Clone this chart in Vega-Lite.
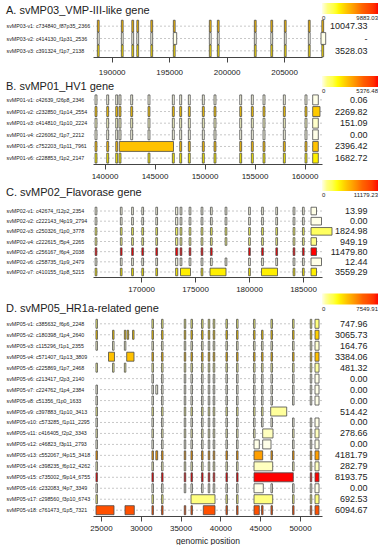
{
"$schema": "https://vega.github.io/schema/vega-lite/v6.json",
"padding": {"left": 6, "top": 3, "right": 0, "bottom": 0},
"spacing": 0,
"config": {
  "font": "Liberation Sans",
  "view": {"stroke": null},
  "axis": {"labelFontSize": 8, "tickSize": 5, "labelPadding": 3, "domainColor": "#444444", "tickColor": "#444444", "labelColor": "#222222", "grid": false, "labelFlush": false},
  "title": {"anchor": "start", "frame": "bounds", "fontSize": 11, "fontWeight": "normal", "baseline": "alphabetic", "color": "#222222"}
},
"datasets": {
  "trA": [
    {"t": "v1", "k": "svMP03-v1: c734840_f87p35_2366|10047.33", "e": 4500},
    {"t": "v2", "k": "svMP03-v2: c414130_f1p31_2536|-", "e": 0},
    {"t": "v3", "k": "svMP03-v3: c391324_f1p7_2138|3528.03", "e": 3528.03}
  ],
  "exA": [
    {"t":"v1","a":188751,"b":188908},{"t":"v1","a":190839,"b":190996},{"t":"v1","a":191753,"b":191910},{"t":"v1","a":192188,"b":192345},{"t":"v1","a":193406,"b":193563},{"t":"v1","a":195363,"b":195520},{"t":"v1","a":198495,"b":198652},{"t":"v1","a":199191,"b":199348},{"t":"v1","a":202410,"b":202567},{"t":"v1","a":203846,"b":204003},{"t":"v1","a":205020,"b":205177},{"t":"v1","a":207108,"b":207265},{"t":"v1","a":208283,"b":208440},
    {"t":"v2","a":188751,"b":188908},{"t":"v2","a":190839,"b":190996},{"t":"v2","a":191753,"b":191910},{"t":"v2","a":192188,"b":192345},{"t":"v2","a":193406,"b":193563},{"t":"v2","a":195359,"b":195655},{"t":"v2","a":198495,"b":198652},{"t":"v2","a":199191,"b":199348},{"t":"v2","a":202410,"b":202567},{"t":"v2","a":203846,"b":204003},{"t":"v2","a":205020,"b":205177},{"t":"v2","a":207108,"b":207265},{"t":"v2","a":208209,"b":208618},
    {"t":"v3","a":188751,"b":188908},{"t":"v3","a":190839,"b":190996},{"t":"v3","a":191753,"b":191910},{"t":"v3","a":192188,"b":192345},{"t":"v3","a":193406,"b":193563},{"t":"v3","a":195363,"b":195520},{"t":"v3","a":198495,"b":198652},{"t":"v3","a":199191,"b":199348},{"t":"v3","a":202410,"b":202567},{"t":"v3","a":203846,"b":204003},{"t":"v3","a":205020,"b":205177},{"t":"v3","a":207108,"b":207265},{"t":"v3","a":208283,"b":208440}
  ],
  "trB": [
    {"t": "v1", "k": "svMP01-v1: c42639_f26p8_2346|0.06", "e": 0.06},
    {"t": "v2", "k": "svMP01-v2: c232850_f1p14_2554|2269.82", "e": 2269.82},
    {"t": "v3", "k": "svMP01-v3: c414810_f1p10_2224|151.09", "e": 151.09},
    {"t": "v4", "k": "svMP01-v4: c226062_f1p7_2212|0.00", "e": 0},
    {"t": "v5", "k": "svMP01-v5: c752203_f1p11_7961|2396.42", "e": 2396.42},
    {"t": "v6", "k": "svMP01-v6: c228853_f1p2_2147|1682.72", "e": 1682.72}
  ],
  "exB": [
    {"t":"v1","a":139055,"b":139245},{"t":"v1","a":140225,"b":140415},{"t":"v1","a":141125,"b":141315},{"t":"v1","a":141455,"b":141645},{"t":"v1","a":142625,"b":142815},{"t":"v1","a":144355,"b":144545},{"t":"v1","a":146785,"b":146975},{"t":"v1","a":147525,"b":147715},{"t":"v1","a":148385,"b":148575},{"t":"v1","a":149785,"b":149975},{"t":"v1","a":150955,"b":151145},{"t":"v1","a":153525,"b":153715},{"t":"v1","a":154685,"b":154875},{"t":"v1","a":155855,"b":156045},{"t":"v1","a":157885,"b":158075},{"t":"v1","a":160055,"b":160245},{"t":"v1","a":160820,"b":161380},
    {"t":"v2","a":139055,"b":139245},{"t":"v2","a":140225,"b":140415},{"t":"v2","a":141125,"b":141315},{"t":"v2","a":141455,"b":141645},{"t":"v2","a":142625,"b":142815},{"t":"v2","a":144355,"b":144545},{"t":"v2","a":146785,"b":146975},{"t":"v2","a":147525,"b":147715},{"t":"v2","a":148385,"b":148575},{"t":"v2","a":149785,"b":149975},{"t":"v2","a":150955,"b":151145},{"t":"v2","a":153525,"b":153715},{"t":"v2","a":154685,"b":154875},{"t":"v2","a":155855,"b":156045},{"t":"v2","a":157885,"b":158075},{"t":"v2","a":160055,"b":160245},{"t":"v2","a":160820,"b":161550},
    {"t":"v3","a":139055,"b":139245},{"t":"v3","a":140225,"b":140415},{"t":"v3","a":141125,"b":141315},{"t":"v3","a":141455,"b":141645},{"t":"v3","a":142625,"b":142815},{"t":"v3","a":144355,"b":144545},{"t":"v3","a":146785,"b":146975},{"t":"v3","a":147525,"b":147715},{"t":"v3","a":148385,"b":148575},{"t":"v3","a":149785,"b":149975},{"t":"v3","a":150955,"b":151145},{"t":"v3","a":153525,"b":153715},{"t":"v3","a":154685,"b":154875},{"t":"v3","a":155855,"b":156045},{"t":"v3","a":157885,"b":158075},{"t":"v3","a":160055,"b":160245},{"t":"v3","a":160820,"b":161380},
    {"t":"v4","a":139055,"b":139245},{"t":"v4","a":140225,"b":140415},{"t":"v4","a":141125,"b":141315},{"t":"v4","a":141455,"b":141645},{"t":"v4","a":142625,"b":142815},{"t":"v4","a":144355,"b":144545},{"t":"v4","a":146785,"b":146975},{"t":"v4","a":147525,"b":147715},{"t":"v4","a":148385,"b":148575},{"t":"v4","a":149785,"b":149975},{"t":"v4","a":150955,"b":151145},{"t":"v4","a":153525,"b":153715},{"t":"v4","a":154685,"b":154875},{"t":"v4","a":155855,"b":156045},{"t":"v4","a":157885,"b":158075},{"t":"v4","a":160055,"b":160245},{"t":"v4","a":160820,"b":161380},
    {"t":"v5","a":139055,"b":139245},{"t":"v5","a":140225,"b":140415},{"t":"v5","a":141125,"b":141315},{"t":"v5","a":141480,"b":146900},{"t":"v5","a":147525,"b":147715},{"t":"v5","a":148385,"b":148575},{"t":"v5","a":149785,"b":149975},{"t":"v5","a":150955,"b":151145},{"t":"v5","a":153525,"b":153715},{"t":"v5","a":154685,"b":154875},{"t":"v5","a":155855,"b":156045},{"t":"v5","a":157885,"b":158075},{"t":"v5","a":160055,"b":160245},{"t":"v5","a":160820,"b":161380},
    {"t":"v6","a":139055,"b":139245},{"t":"v6","a":140225,"b":140415},{"t":"v6","a":141125,"b":141315},{"t":"v6","a":141455,"b":141645},{"t":"v6","a":144355,"b":144545},{"t":"v6","a":146785,"b":146975},{"t":"v6","a":147525,"b":147715},{"t":"v6","a":148385,"b":148575},{"t":"v6","a":149785,"b":149975},{"t":"v6","a":150955,"b":151145},{"t":"v6","a":153525,"b":153715},{"t":"v6","a":154685,"b":154875},{"t":"v6","a":155855,"b":156045},{"t":"v6","a":157885,"b":158075},{"t":"v6","a":160055,"b":160245},{"t":"v6","a":160820,"b":161380}
  ],
  "trC": [
    {"t": "v1", "k": "svMP02-v1: c42674_f12p2_2354|13.99", "e": 13.99},
    {"t": "v2", "k": "svMP02-v2: c222143_f4p19_2794|0.00", "e": 0},
    {"t": "v3", "k": "svMP02-v3: c250326_f1p0_3778|1824.98", "e": 1824.98},
    {"t": "v4", "k": "svMP02-v4: c222615_f5p4_2265|949.19", "e": 949.19},
    {"t": "v5", "k": "svMP02-v5: c256167_f6p4_2038|11479.80", "e": 11479.8},
    {"t": "v6", "k": "svMP02-v6: c258735_f1p9_2479|12.44", "e": 12.44},
    {"t": "v7", "k": "svMP02-v7: c410155_f1p8_5215|3559.29", "e": 3559.29}
  ],
  "exC": [
    {"t":"v1","a":165754,"b":165912},{"t":"v1","a":168087,"b":168245},{"t":"v1","a":169134,"b":169292},{"t":"v1","a":170078,"b":170236},{"t":"v1","a":171375,"b":171533},{"t":"v1","a":173208,"b":173403},{"t":"v1","a":173625,"b":173783},{"t":"v1","a":174458,"b":174616},{"t":"v1","a":175569,"b":175728},{"t":"v1","a":176430,"b":176589},{"t":"v1","a":177792,"b":177950},{"t":"v1","a":179968,"b":180126},{"t":"v1","a":181172,"b":181330},{"t":"v1","a":182487,"b":182645},{"t":"v1","a":184088,"b":184247},{"t":"v1","a":184950,"b":185108},{"t":"v1","a":185742,"b":186251},
    {"t":"v2","a":165754,"b":165912},{"t":"v2","a":168087,"b":168245},{"t":"v2","a":169134,"b":169292},{"t":"v2","a":170078,"b":170236},{"t":"v2","a":171375,"b":171533},{"t":"v2","a":173208,"b":173403},{"t":"v2","a":173625,"b":173783},{"t":"v2","a":174458,"b":174616},{"t":"v2","a":175569,"b":175728},{"t":"v2","a":176430,"b":176589},{"t":"v2","a":177792,"b":177950},{"t":"v2","a":179968,"b":180126},{"t":"v2","a":181172,"b":181330},{"t":"v2","a":182487,"b":182645},{"t":"v2","a":184088,"b":184247},{"t":"v2","a":184950,"b":185108},{"t":"v2","a":185742,"b":186714},
    {"t":"v3","a":165754,"b":165912},{"t":"v3","a":168087,"b":168245},{"t":"v3","a":169134,"b":169292},{"t":"v3","a":170078,"b":170236},{"t":"v3","a":171375,"b":171533},{"t":"v3","a":173208,"b":173403},{"t":"v3","a":173625,"b":173783},{"t":"v3","a":174458,"b":174616},{"t":"v3","a":175569,"b":175728},{"t":"v3","a":176430,"b":176589},{"t":"v3","a":177792,"b":177950},{"t":"v3","a":179968,"b":180126},{"t":"v3","a":181172,"b":181330},{"t":"v3","a":182487,"b":182645},{"t":"v3","a":184088,"b":184247},{"t":"v3","a":184950,"b":185108},{"t":"v3","a":185742,"b":187686},
    {"t":"v4","a":165754,"b":165912},{"t":"v4","a":168087,"b":168245},{"t":"v4","a":169134,"b":169292},{"t":"v4","a":170078,"b":170236},{"t":"v4","a":171375,"b":171533},{"t":"v4","a":173208,"b":173403},{"t":"v4","a":173625,"b":173783},{"t":"v4","a":174458,"b":174616},{"t":"v4","a":175569,"b":175728},{"t":"v4","a":176430,"b":176589},{"t":"v4","a":177792,"b":177950},{"t":"v4","a":179968,"b":180126},{"t":"v4","a":181172,"b":181330},{"t":"v4","a":182487,"b":182645},{"t":"v4","a":184088,"b":184247},{"t":"v4","a":184950,"b":185108},{"t":"v4","a":185742,"b":186251},
    {"t":"v5","a":165754,"b":165912},{"t":"v5","a":168087,"b":168245},{"t":"v5","a":169134,"b":169292},{"t":"v5","a":170078,"b":170236},{"t":"v5","a":171375,"b":171533},{"t":"v5","a":173208,"b":173403},{"t":"v5","a":173625,"b":173783},{"t":"v5","a":174458,"b":174616},{"t":"v5","a":175569,"b":175728},{"t":"v5","a":176430,"b":176589},{"t":"v5","a":179968,"b":180126},{"t":"v5","a":181172,"b":181330},{"t":"v5","a":182487,"b":182645},{"t":"v5","a":184088,"b":184247},{"t":"v5","a":184950,"b":185108},{"t":"v5","a":185742,"b":186251},
    {"t":"v6","a":165754,"b":165912},{"t":"v6","a":168087,"b":168245},{"t":"v6","a":169134,"b":169292},{"t":"v6","a":170078,"b":170236},{"t":"v6","a":171375,"b":171533},{"t":"v6","a":173208,"b":173403},{"t":"v6","a":173625,"b":173783},{"t":"v6","a":174458,"b":174616},{"t":"v6","a":175569,"b":175728},{"t":"v6","a":176430,"b":176589},{"t":"v6","a":177792,"b":177950},{"t":"v6","a":179968,"b":180126},{"t":"v6","a":181172,"b":181330},{"t":"v6","a":182487,"b":182645},{"t":"v6","a":184088,"b":184247},{"t":"v6","a":184950,"b":185108},{"t":"v6","a":185742,"b":186714},
    {"t":"v7","a":165754,"b":165912},{"t":"v7","a":168087,"b":168245},{"t":"v7","a":169134,"b":169292},{"t":"v7","a":170078,"b":170236},{"t":"v7","a":171375,"b":171533},{"t":"v7","a":173208,"b":173403},{"t":"v7","a":173658,"b":174584},{"t":"v7","a":175569,"b":175728},{"t":"v7","a":176389,"b":177871},{"t":"v7","a":179968,"b":180126},{"t":"v7","a":181158,"b":182640},{"t":"v7","a":184088,"b":184247},{"t":"v7","a":184950,"b":185108},{"t":"v7","a":185742,"b":186251}
  ],
  "trD": [
    {"t": "v1", "k": "svMP05-v1: c385632_f6p6_2248|747.96", "e": 747.96},
    {"t": "v2", "k": "svMP05-v2: c180398_f1p4_2640|3065.73", "e": 3065.73},
    {"t": "v3", "k": "svMP05-v3: c115296_f1p1_2355|164.76", "e": 164.76},
    {"t": "v4", "k": "svMP05-v4: c571407_f1p13_3809|3384.06", "e": 3384.06},
    {"t": "v5", "k": "svMP05-v5: c225869_f1p7_2468|481.32", "e": 481.32},
    {"t": "v6", "k": "svMP05-v6: c213417_f2p3_2140|0.00", "e": 0},
    {"t": "v7", "k": "svMP05-v7: c224762_f1p4_2384|0.00", "e": 0},
    {"t": "v8", "k": "svMP05-v8: c51356_f1p0_1633|0.00", "e": 0},
    {"t": "v9", "k": "svMP05-v9: c397883_f1p10_3413|514.42", "e": 514.42},
    {"t": "v10", "k": "svMP05-v10: c573285_f1p11_2295|0.00", "e": 0},
    {"t": "v11", "k": "svMP05-v11: c416405_f2p2_3343|278.66", "e": 278.66},
    {"t": "v12", "k": "svMP05-v12: c46823_f3p11_2793|0.00", "e": 0},
    {"t": "v13", "k": "svMP05-v13: c552067_f4p15_3418|4181.79", "e": 4181.79},
    {"t": "v14", "k": "svMP05-v14: c398235_f6p12_4262|282.79", "e": 282.79},
    {"t": "v15", "k": "svMP05-v15: c735002_f9p14_6755|8193.75", "e": 8193.75},
    {"t": "v16", "k": "svMP05-v16: c232083_f4p7_3349|0.00", "e": 0},
    {"t": "v17", "k": "svMP05-v17: c298560_f3p10_6743|692.53", "e": 692.53},
    {"t": "v18", "k": "svMP05-v18: c761473_f1p5_7321|6094.67", "e": 6094.67}
  ],
  "exD": [
    {"t":"v1","a":24371,"b":24559},{"t":"v1","a":31404,"b":31592},{"t":"v1","a":32610,"b":32798},{"t":"v1","a":35461,"b":35649},{"t":"v1","a":36303,"b":36491},{"t":"v1","a":37634,"b":37822},{"t":"v1","a":38475,"b":38664},{"t":"v1","a":39103,"b":39292},{"t":"v1","a":40699,"b":40887},{"t":"v1","a":42030,"b":42218},{"t":"v1","a":44165,"b":44353},{"t":"v1","a":46351,"b":46539},{"t":"v1","a":49064,"b":49252},{"t":"v1","a":51287,"b":51475},{"t":"v1","a":51883,"b":52386},
    {"t":"v2","a":24371,"b":24559},{"t":"v2","a":26456,"b":26644},{"t":"v2","a":27938,"b":28126},{"t":"v2","a":28289,"b":28478},{"t":"v2","a":28968,"b":29156},{"t":"v2","a":31404,"b":31592},{"t":"v2","a":32610,"b":32798},{"t":"v2","a":35461,"b":35649},{"t":"v2","a":36303,"b":36491},{"t":"v2","a":37634,"b":37822},{"t":"v2","a":38475,"b":38664},{"t":"v2","a":39103,"b":39292},{"t":"v2","a":40699,"b":40887},{"t":"v2","a":42030,"b":42218},{"t":"v2","a":44165,"b":44353},{"t":"v2","a":45170,"b":45358},{"t":"v2","a":46351,"b":46539},{"t":"v2","a":49064,"b":49252},{"t":"v2","a":51287,"b":51475},{"t":"v2","a":51883,"b":52386},
    {"t":"v3","a":24371,"b":24559},{"t":"v3","a":26456,"b":26644},{"t":"v3","a":27938,"b":28126},{"t":"v3","a":31404,"b":31592},{"t":"v3","a":32610,"b":32798},{"t":"v3","a":35461,"b":35649},{"t":"v3","a":36303,"b":36491},{"t":"v3","a":37634,"b":37822},{"t":"v3","a":38475,"b":38664},{"t":"v3","a":39103,"b":39292},{"t":"v3","a":40699,"b":40887},{"t":"v3","a":42030,"b":42218},{"t":"v3","a":44165,"b":44353},{"t":"v3","a":45170,"b":45358},{"t":"v3","a":46351,"b":46539},{"t":"v3","a":49064,"b":49252},{"t":"v3","a":51287,"b":51475},{"t":"v3","a":51883,"b":52386},
    {"t":"v4","a":25947,"b":26700},{"t":"v4","a":28233,"b":29150},{"t":"v4","a":31404,"b":31592},{"t":"v4","a":32610,"b":32798},{"t":"v4","a":35461,"b":35649},{"t":"v4","a":36303,"b":36491},{"t":"v4","a":37634,"b":37822},{"t":"v4","a":38475,"b":38664},{"t":"v4","a":39103,"b":39292},{"t":"v4","a":40699,"b":40887},{"t":"v4","a":42030,"b":42218},{"t":"v4","a":44165,"b":44353},{"t":"v4","a":45170,"b":45358},{"t":"v4","a":46351,"b":46539},{"t":"v4","a":49064,"b":49252},{"t":"v4","a":51287,"b":51475},{"t":"v4","a":51883,"b":52386},
    {"t":"v5","a":24371,"b":24559},{"t":"v5","a":26456,"b":26644},{"t":"v5","a":27938,"b":28126},{"t":"v5","a":31404,"b":31592},{"t":"v5","a":32610,"b":32798},{"t":"v5","a":35461,"b":35649},{"t":"v5","a":36303,"b":36491},{"t":"v5","a":37634,"b":37822},{"t":"v5","a":38475,"b":38664},{"t":"v5","a":39103,"b":39292},{"t":"v5","a":40699,"b":40887},{"t":"v5","a":42030,"b":42218},{"t":"v5","a":44165,"b":44353},{"t":"v5","a":45170,"b":45358},{"t":"v5","a":46351,"b":46539},{"t":"v5","a":49064,"b":49252},{"t":"v5","a":51287,"b":51475},{"t":"v5","a":51883,"b":52386},
    {"t":"v6","a":31404,"b":31592},{"t":"v6","a":32610,"b":32798},{"t":"v6","a":35461,"b":35649},{"t":"v6","a":36303,"b":36491},{"t":"v6","a":37634,"b":37822},{"t":"v6","a":38475,"b":38664},{"t":"v6","a":39103,"b":39292},{"t":"v6","a":40699,"b":40887},{"t":"v6","a":42030,"b":42218},{"t":"v6","a":44165,"b":44353},{"t":"v6","a":45170,"b":45358},{"t":"v6","a":46351,"b":46539},{"t":"v6","a":49064,"b":49252},{"t":"v6","a":51287,"b":51475},{"t":"v6","a":51883,"b":52386},
    {"t":"v7","a":24371,"b":24559},{"t":"v7","a":31404,"b":31592},{"t":"v7","a":31894,"b":32120},{"t":"v7","a":32610,"b":32798},{"t":"v7","a":35461,"b":35649},{"t":"v7","a":36303,"b":36491},{"t":"v7","a":37634,"b":37822},{"t":"v7","a":38475,"b":38664},{"t":"v7","a":39103,"b":39292},{"t":"v7","a":40699,"b":40887},{"t":"v7","a":42030,"b":42218},{"t":"v7","a":44165,"b":44353},{"t":"v7","a":45170,"b":45358},{"t":"v7","a":46351,"b":46539},{"t":"v7","a":49064,"b":49252},{"t":"v7","a":51287,"b":51475},{"t":"v7","a":51883,"b":52386},
    {"t":"v8","a":24371,"b":24559},{"t":"v8","a":31404,"b":31592},{"t":"v8","a":32610,"b":32798},{"t":"v8","a":35461,"b":35649},{"t":"v8","a":36303,"b":36491},{"t":"v8","a":37634,"b":37822},{"t":"v8","a":38475,"b":38664},{"t":"v8","a":39103,"b":39292},{"t":"v8","a":40699,"b":40887},{"t":"v8","a":42030,"b":42218},{"t":"v8","a":44165,"b":44353},{"t":"v8","a":45170,"b":45358},{"t":"v8","a":46351,"b":46539},{"t":"v8","a":49064,"b":49252},{"t":"v8","a":51287,"b":51475},{"t":"v8","a":51883,"b":52386},
    {"t":"v9","a":24371,"b":24559},{"t":"v9","a":31404,"b":31592},{"t":"v9","a":32610,"b":32798},{"t":"v9","a":35461,"b":35649},{"t":"v9","a":36303,"b":36491},{"t":"v9","a":37634,"b":37822},{"t":"v9","a":38475,"b":38664},{"t":"v9","a":39103,"b":39292},{"t":"v9","a":40699,"b":40887},{"t":"v9","a":42030,"b":42218},{"t":"v9","a":44165,"b":44353},{"t":"v9","a":45170,"b":45358},{"t":"v9","a":46319,"b":48329},
    {"t":"v10","a":24371,"b":24559},{"t":"v10","a":31404,"b":31592},{"t":"v10","a":32610,"b":32798},{"t":"v10","a":35461,"b":35649},{"t":"v10","a":36303,"b":36491},{"t":"v10","a":37634,"b":37822},{"t":"v10","a":38475,"b":38664},{"t":"v10","a":39103,"b":39292},{"t":"v10","a":40699,"b":40887},{"t":"v10","a":42030,"b":42218},{"t":"v10","a":44165,"b":44353},{"t":"v10","a":45170,"b":45358},{"t":"v10","a":46351,"b":46539},{"t":"v10","a":49064,"b":49252},{"t":"v10","a":51287,"b":51475},{"t":"v10","a":51883,"b":52386},
    {"t":"v11","a":24371,"b":24559},{"t":"v11","a":31404,"b":31592},{"t":"v11","a":32610,"b":32798},{"t":"v11","a":35461,"b":35649},{"t":"v11","a":36303,"b":36491},{"t":"v11","a":37634,"b":37822},{"t":"v11","a":38475,"b":38664},{"t":"v11","a":39103,"b":39292},{"t":"v11","a":40699,"b":40887},{"t":"v11","a":42030,"b":42218},{"t":"v11","a":44165,"b":44353},{"t":"v11","a":45314,"b":46608},{"t":"v11","a":49064,"b":49252},{"t":"v11","a":51287,"b":51475},{"t":"v11","a":51883,"b":52386},
    {"t":"v12","a":24371,"b":24559},{"t":"v12","a":31404,"b":31592},{"t":"v12","a":32610,"b":32798},{"t":"v12","a":35461,"b":35649},{"t":"v12","a":36303,"b":36491},{"t":"v12","a":37634,"b":37822},{"t":"v12","a":38475,"b":38664},{"t":"v12","a":39103,"b":39292},{"t":"v12","a":40699,"b":40887},{"t":"v12","a":42030,"b":42218},{"t":"v12","a":44222,"b":44887},{"t":"v12","a":45314,"b":46357},{"t":"v12","a":49064,"b":49252},{"t":"v12","a":51287,"b":51475},{"t":"v12","a":51883,"b":52386},
    {"t":"v13","a":24371,"b":24559},{"t":"v13","a":31404,"b":31592},{"t":"v13","a":31894,"b":32120},{"t":"v13","a":32610,"b":32798},{"t":"v13","a":35461,"b":35649},{"t":"v13","a":36303,"b":36491},{"t":"v13","a":37634,"b":37822},{"t":"v13","a":38475,"b":38664},{"t":"v13","a":39103,"b":39292},{"t":"v13","a":40699,"b":40887},{"t":"v13","a":42030,"b":42218},{"t":"v13","a":44222,"b":45314},{"t":"v13","a":46351,"b":46539},{"t":"v13","a":49064,"b":49252},{"t":"v13","a":51287,"b":51475},{"t":"v13","a":51883,"b":52386},
    {"t":"v14","a":24371,"b":24559},{"t":"v14","a":31404,"b":31592},{"t":"v14","a":32610,"b":32798},{"t":"v14","a":35461,"b":35649},{"t":"v14","a":36303,"b":36491},{"t":"v14","a":37634,"b":37822},{"t":"v14","a":38475,"b":38664},{"t":"v14","a":39103,"b":39292},{"t":"v14","a":40699,"b":40887},{"t":"v14","a":42030,"b":42218},{"t":"v14","a":44222,"b":46570},{"t":"v14","a":49064,"b":49252},{"t":"v14","a":51287,"b":51475},{"t":"v14","a":51883,"b":52386},
    {"t":"v15","a":24371,"b":24559},{"t":"v15","a":31404,"b":31592},{"t":"v15","a":32610,"b":32798},{"t":"v15","a":35461,"b":35649},{"t":"v15","a":36303,"b":36491},{"t":"v15","a":37634,"b":37822},{"t":"v15","a":38475,"b":38664},{"t":"v15","a":39103,"b":39292},{"t":"v15","a":40699,"b":40887},{"t":"v15","a":42030,"b":42218},{"t":"v15","a":44222,"b":49158},{"t":"v15","a":51287,"b":51475},{"t":"v15","a":51883,"b":52386},
    {"t":"v16","a":24371,"b":24559},{"t":"v16","a":31404,"b":31592},{"t":"v16","a":32610,"b":32798},{"t":"v16","a":35461,"b":35649},{"t":"v16","a":36303,"b":36491},{"t":"v16","a":37634,"b":37822},{"t":"v16","a":38475,"b":38664},{"t":"v16","a":39103,"b":39292},{"t":"v16","a":40699,"b":40887},{"t":"v16","a":42030,"b":42218},{"t":"v16","a":44222,"b":45390},{"t":"v16","a":46351,"b":46539},{"t":"v16","a":49064,"b":49252},{"t":"v16","a":51287,"b":51475},{"t":"v16","a":51883,"b":52386},
    {"t":"v17","a":24371,"b":24559},{"t":"v17","a":31404,"b":31592},{"t":"v17","a":32610,"b":32798},{"t":"v17","a":36309,"b":39323},{"t":"v17","a":40699,"b":40887},{"t":"v17","a":42030,"b":42218},{"t":"v17","a":44222,"b":46570},{"t":"v17","a":49064,"b":49252},{"t":"v17","a":51287,"b":51475},{"t":"v17","a":51883,"b":52386},
    {"t":"v18","a":24377,"b":26638},{"t":"v18","a":28019,"b":29187},{"t":"v18","a":31404,"b":31592},{"t":"v18","a":32610,"b":32798},{"t":"v18","a":35461,"b":35649},{"t":"v18","a":36303,"b":36491},{"t":"v18","a":37854,"b":39323},{"t":"v18","a":40699,"b":40887},{"t":"v18","a":42030,"b":42218},{"t":"v18","a":44222,"b":44887},{"t":"v18","a":45170,"b":45358},{"t":"v18","a":46351,"b":46539},{"t":"v18","a":49064,"b":49252},{"t":"v18","a":51287,"b":51475},{"t":"v18","a":51883,"b":52386}
  ]
},
"vconcat": [
  {
    "title": {"text": "A.  svMP03_VMP-III-like gene", "offset": -12.5},
    "width": 229, "height": 37,
    "layer": [
      {"data": {"name": "trA"},
       "mark": {"type": "rule", "strokeDash": [2, 2], "color": "#b0b0b0", "strokeWidth": 0.7},
       "encoding": {"y": {"field": "k", "type": "nominal", "sort": null, "bandPosition": 0.5,
         "scale": {"paddingInner": 0.04, "paddingOuter": 0.02},
         "axis": {"orient": "right", "labelExpr": "split(datum.value, '|')[1]", "labelAlign": "right", "labelPadding": 45, "labelFontSize": 9, "ticks": false, "tickSize": 0, "domain": false, "title": null}}}},
      {"data": {"name": "exA"},
       "transform": [{"lookup": "t", "from": {"data": {"name": "trA"}, "key": "t", "fields": ["k", "e"]}}],
       "mark": {"type": "rect", "stroke": "#4a4a4a", "strokeWidth": 0.8},
       "encoding": {
         "x": {"field": "a", "type": "quantitative", "scale": {"domain": [188373, 208296], "nice": false, "zero": false}, "axis": {"values": [190000, 195000, 200000, 205000], "format": "d", "title": null, "labelPadding": 6}},
         "x2": {"field": "b"},
         "y": {"field": "k", "type": "nominal", "sort": null, "axis": {"orient": "left", "labelExpr": "split(datum.value, '|')[0]", "labelAlign": "left", "labelPadding": 87, "labelFontSize": 5.3, "ticks": false, "tickSize": 0, "domain": false, "title": null}},
         "color": {"field": "e", "type": "quantitative",
           "scale": {"domain": [0, 898.46, 2695.37, 4492.29, 7187.66, 9883.03], "range": ["#FFFFE8", "#FFFF80", "#FFFF00", "#FFBF00", "#FF6000", "#FF0000"], "clamp": true},
           "legend": {"orient": "none", "legendX": 229, "legendY": -17, "direction": "horizontal", "title": null, "gradientLength": 56, "gradientThickness": 11, "labelFontSize": 6, "labelOffset": 1, "values": [0, 9883.03], "labelExpr": "datum.value == 0 ? '0' : format(datum.value, '.2f')", "padding": 0, "gradientStrokeWidth": 0, "labelColor": "#222222"}}
       }}
    ],
    "resolve": {"axis": {"y": "independent"}}
  },
  {
    "title": {"text": "B.  svMP01_HV1 gene", "offset": -15.5},
    "width": 229, "height": 70,
    "layer": [
      {"data": {"name": "trB"},
       "mark": {"type": "rule", "strokeDash": [2, 2], "color": "#b0b0b0", "strokeWidth": 0.7},
       "encoding": {"y": {"field": "k", "type": "nominal", "sort": null, "bandPosition": 0.5,
         "scale": {"paddingInner": 0.15, "paddingOuter": 0.08},
         "axis": {"orient": "right", "labelExpr": "split(datum.value, '|')[1]", "labelAlign": "right", "labelPadding": 45, "labelFontSize": 9, "ticks": false, "tickSize": 0, "domain": false, "title": null}}}},
      {"data": {"name": "exB"},
       "transform": [{"lookup": "t", "from": {"data": {"name": "trB"}, "key": "t", "fields": ["k", "e"]}}],
       "mark": {"type": "rect", "stroke": "#4a4a4a", "strokeWidth": 0.8},
       "encoding": {
         "x": {"field": "a", "type": "quantitative", "scale": {"domain": [138850, 161750], "nice": false, "zero": false}, "axis": {"values": [140000, 145000, 150000, 155000, 160000], "format": "d", "title": null}},
         "x2": {"field": "b"},
         "y": {"field": "k", "type": "nominal", "sort": null, "axis": {"orient": "left", "labelExpr": "split(datum.value, '|')[0]", "labelAlign": "left", "labelPadding": 87, "labelFontSize": 5.3, "ticks": false, "tickSize": 0, "domain": false, "title": null}},
         "color": {"field": "e", "type": "quantitative",
           "scale": {"domain": [0, 488.77, 1466.31, 2443.86, 3910.17, 5376.48], "range": ["#FFFFE8", "#FFFF80", "#FFFF00", "#FFBF00", "#FF6000", "#FF0000"], "clamp": true},
           "legend": {"orient": "none", "legendX": 229, "legendY": -18, "direction": "horizontal", "title": null, "gradientLength": 56, "gradientThickness": 11, "labelFontSize": 6, "labelOffset": 1, "values": [0, 5376.48], "labelExpr": "datum.value == 0 ? '0' : format(datum.value, '.2f')", "padding": 0, "gradientStrokeWidth": 0, "labelColor": "#222222"}}
       }}
    ],
    "resolve": {"axis": {"y": "independent"}}
  },
  {
    "title": {"text": "C.  svMP02_Flavorase gene", "offset": -18},
    "width": 229, "height": 71,
    "layer": [
      {"data": {"name": "trC"},
       "mark": {"type": "rule", "strokeDash": [2, 2], "color": "#b0b0b0", "strokeWidth": 0.7},
       "encoding": {"y": {"field": "k", "type": "nominal", "sort": null, "bandPosition": 0.5,
         "scale": {"paddingInner": 0.25, "paddingOuter": 0.12},
         "axis": {"orient": "right", "labelExpr": "split(datum.value, '|')[1]", "labelAlign": "right", "labelPadding": 45, "labelFontSize": 9, "ticks": false, "tickSize": 0, "domain": false, "title": null}}}},
      {"data": {"name": "exC"},
       "transform": [{"lookup": "t", "from": {"data": {"name": "trC"}, "key": "t", "fields": ["k", "e"]}}],
       "mark": {"type": "rect", "stroke": "#4a4a4a", "strokeWidth": 0.8},
       "encoding": {
         "x": {"field": "a", "type": "quantitative", "scale": {"domain": [165555, 186760], "nice": false, "zero": false}, "axis": {"values": [170000, 175000, 180000, 185000], "format": "d", "title": null}},
         "x2": {"field": "b"},
         "y": {"field": "k", "type": "nominal", "sort": null, "axis": {"orient": "left", "labelExpr": "split(datum.value, '|')[0]", "labelAlign": "left", "labelPadding": 87, "labelFontSize": 5.3, "ticks": false, "tickSize": 0, "domain": false, "title": null}},
         "color": {"field": "e", "type": "quantitative",
           "scale": {"domain": [0, 1016.29, 3048.88, 5081.47, 8130.35, 11179.23], "range": ["#FFFFE8", "#FFFF80", "#FFFF00", "#FFBF00", "#FF6000", "#FF0000"], "clamp": true},
           "legend": {"orient": "none", "legendX": 229, "legendY": -26, "direction": "horizontal", "title": null, "gradientLength": 56, "gradientThickness": 11, "labelFontSize": 6, "labelOffset": 1, "values": [0, 11179.23], "labelExpr": "datum.value == 0 ? '0' : format(datum.value, '.2f')", "padding": 0, "gradientStrokeWidth": 0, "labelColor": "#222222"}}
       }}
    ],
    "resolve": {"axis": {"y": "independent"}}
  },
  {
    "title": {"text": "D.  svMP05_HR1a-related gene", "offset": -20},
    "width": 229, "height": 198,
    "layer": [
      {"data": {"name": "trD"},
       "mark": {"type": "rule", "strokeDash": [2, 2], "color": "#b0b0b0", "strokeWidth": 0.7},
       "encoding": {"y": {"field": "k", "type": "nominal", "sort": null, "bandPosition": 0.5,
         "scale": {"paddingInner": 0.18, "paddingOuter": 0.12},
         "axis": {"orient": "right", "labelExpr": "split(datum.value, '|')[1]", "labelAlign": "right", "labelPadding": 45, "labelFontSize": 9, "ticks": false, "tickSize": 0, "domain": false, "title": null}}}},
      {"data": {"name": "exD"},
       "transform": [{"lookup": "t", "from": {"data": {"name": "trD"}, "key": "t", "fields": ["k", "e"]}}],
       "mark": {"type": "rect", "stroke": "#4a4a4a", "strokeWidth": 0.8},
       "encoding": {
         "x": {"field": "a", "type": "quantitative", "scale": {"domain": [24000, 52762], "nice": false, "zero": false}, "axis": {"values": [25000, 30000, 35000, 40000, 45000, 50000], "format": "d", "title": "genomic position", "titleFontSize": 8.5, "titleFontWeight": "normal", "titlePadding": 4, "titleColor": "#222222"}},
         "x2": {"field": "b"},
         "y": {"field": "k", "type": "nominal", "sort": null, "axis": {"orient": "left", "labelExpr": "split(datum.value, '|')[0]", "labelAlign": "left", "labelPadding": 87, "labelFontSize": 5.3, "ticks": false, "tickSize": 0, "domain": false, "title": null}},
         "color": {"field": "e", "type": "quantitative",
           "scale": {"domain": [0, 686.36, 2059.07, 3431.79, 5490.84, 7549.91], "range": ["#FFFFE8", "#FFFF80", "#FFFF00", "#FFBF00", "#FF6000", "#FF0000"], "clamp": true},
           "legend": {"orient": "none", "legendX": 229, "legendY": -24.5, "direction": "horizontal", "title": null, "gradientLength": 56, "gradientThickness": 11, "labelFontSize": 6, "labelOffset": 1, "values": [0, 7549.91], "labelExpr": "datum.value == 0 ? '0' : format(datum.value, '.2f')", "padding": 0, "gradientStrokeWidth": 0, "labelColor": "#222222"}}
       }}
    ],
    "resolve": {"axis": {"y": "independent"}}
  }
],
"resolve": {"scale": {"color": "independent", "x": "independent", "y": "independent"}, "legend": {"color": "independent"}}
}
